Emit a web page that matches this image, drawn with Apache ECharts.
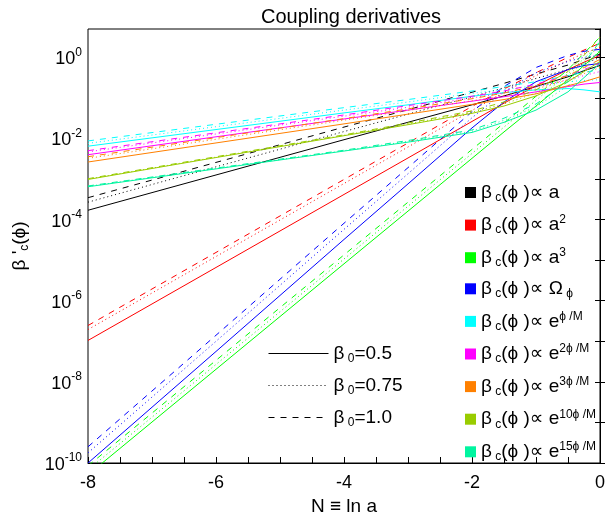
<!DOCTYPE html>
<html><head><meta charset="utf-8">
<script src="https://cdn.jsdelivr.net/npm/echarts@6/dist/echarts.min.js"></script>
<style>html,body{margin:0;padding:0;background:#fff}#c{width:616px;height:512px}</style>
</head><body><div id="c"></div>
<script>
// N = ln a sample points
const N = [-8, -6, -4, -3, -2, -1.5, -1, -0.5, -0.25, 0];
const xTicksLabelled = [-8, -6, -4, -2, 0];

// beta_c ∝ a
const black_05  = [1.70e-4, 1.26e-3, 9.33e-3, 2.51e-2, 6.76e-2, 0.112, 0.191, 0.331, 0.468, 0.631];
const black_075 = [2.69e-4, 2.00e-3, 1.48e-2, 3.98e-2, 0.107, 0.178, 0.302, 0.50, 0.692, 1.0];
const black_10  = [3.47e-4, 2.57e-3, 1.91e-2, 5.13e-2, 0.138, 0.229, 0.389, 0.646, 0.891, 1.2];
// beta_c ∝ a^2
const red_05  = [1.05e-7, 6.61e-6, 4.17e-4, 3.31e-3, 2.63e-2, 7.41e-2, 0.20, 0.50, 0.759, 1.12];
const red_075 = [1.95e-7, 1.23e-5, 7.76e-4, 6.17e-3, 4.90e-2, 0.138, 0.355, 0.832, 1.26, 1.78];
const red_10  = [2.45e-7, 1.55e-5, 9.77e-4, 7.76e-3, 6.17e-2, 0.166, 0.417, 1.0, 1.51, 2.24];
// beta_c ∝ a^3
const green_05  = [5.13e-11, 2.04e-8, 8.13e-6, 1.62e-4, 3.24e-3, 1.45e-2, 6.31e-2, 0.282, 0.631, 1.41];
const green_075 = [6.76e-11, 2.69e-8, 1.07e-5, 2.14e-4, 4.27e-3, 1.91e-2, 8.71e-2, 0.398, 0.933, 2.24];
const green_10  = [8.51e-11, 3.39e-8, 1.35e-5, 2.69e-4, 5.37e-3, 2.40e-2, 0.110, 0.50, 1.26, 3.16];
// beta_c ∝ Omega_phi
const blue_05  = [1.00e-10, 5.62e-8, 3.24e-5, 7.59e-4, 1.82e-2, 7.94e-2, 0.251, 0.50, 0.631, 0.708];
const blue_075 = [1.78e-10, 1.00e-7, 5.75e-5, 1.35e-3, 3.24e-2, 0.141, 0.417, 0.794, 1.0, 1.12];
const blue_10  = [2.51e-10, 1.41e-7, 8.13e-5, 1.91e-3, 4.57e-2, 0.191, 0.562, 1.12, 1.41, 1.58];
// beta_c ∝ e^{phi/M}
const cyan_05  = [6.46e-3, 1.66e-2, 4.27e-2, 6.76e-2, 0.110, 0.135, 0.158, 0.170, 0.158, 0.141];
const cyan_075 = [7.59e-3, 1.95e-2, 5.01e-2, 7.94e-2, 0.129, 0.162, 0.200, 0.251, 0.269, 0.282];
const cyan_10  = [8.71e-3, 2.24e-2, 5.75e-2, 9.12e-2, 0.148, 0.191, 0.251, 0.355, 0.427, 0.50];
// beta_c ∝ e^{2phi/M}
const mag_05  = [3.98e-3, 1.10e-2, 3.02e-2, 5.01e-2, 8.32e-2, 0.107, 0.141, 0.191, 0.219, 0.240];
const mag_075 = [4.68e-3, 1.29e-2, 3.55e-2, 5.89e-2, 0.100, 0.132, 0.186, 0.282, 0.355, 0.447];
const mag_10  = [5.01e-3, 1.38e-2, 3.80e-2, 6.46e-2, 0.110, 0.148, 0.219, 0.355, 0.50, 0.708];
// beta_c ∝ e^{3phi/M}
const org_05  = [2.63e-3, 7.76e-3, 2.29e-2, 3.98e-2, 6.92e-2, 9.12e-2, 0.126, 0.200, 0.251, 0.331];
const org_075 = [3.24e-3, 9.55e-3, 2.82e-2, 4.90e-2, 8.51e-2, 0.115, 0.166, 0.282, 0.398, 0.562];
const org_10  = [3.55e-3, 1.05e-2, 3.09e-2, 5.37e-2, 9.55e-2, 0.132, 0.200, 0.355, 0.562, 0.891];
// beta_c ∝ e^{10phi/M}
const yg_05  = [9.77e-4, 3.39e-3, 1.17e-2, 2.19e-2, 4.17e-2, 6.31e-2, 0.112, 0.251, 0.447, 0.794];
const yg_075 = [1.00e-3, 3.47e-3, 1.20e-2, 2.29e-2, 4.47e-2, 7.08e-2, 0.132, 0.355, 0.794, 2.0];
const yg_10  = [1.02e-3, 3.55e-3, 1.23e-2, 2.40e-2, 4.79e-2, 7.94e-2, 0.158, 0.447, 1.12, 3.16];
// beta_c ∝ e^{15phi/M}
const aq_05  = [6.46e-4, 1.78e-3, 4.90e-3, 8.13e-3, 1.41e-2, 2.51e-2, 5.01e-2, 0.141, 0.316, 0.708];
const aq_075 = [6.61e-4, 1.82e-3, 5.01e-3, 8.51e-3, 1.51e-2, 2.82e-2, 6.03e-2, 0.200, 0.50, 1.58];
const aq_10  = [6.76e-4, 1.86e-3, 5.13e-3, 8.91e-3, 1.62e-2, 3.16e-2, 7.08e-2, 0.251, 0.708, 2.51];

const families = [
  {key:'a',   color:'#000000', d:[black_05, black_075, black_10]},
  {key:'a2',  color:'#ff0000', d:[red_05, red_075, red_10]},
  {key:'a3',  color:'#00ff00', d:[green_05, green_075, green_10]},
  {key:'om',  color:'#0000ff', d:[blue_05, blue_075, blue_10]},
  {key:'e1',  color:'#00ffff', d:[cyan_05, cyan_075, cyan_10]},
  {key:'e2',  color:'#ff00ff', d:[mag_05, mag_075, mag_10]},
  {key:'e3',  color:'#ff8000', d:[org_05, org_075, org_10]},
  {key:'e10', color:'#99cc00', d:[yg_05, yg_075, yg_10]},
  {key:'e15', color:'#00f5a0', d:[aq_05, aq_075, aq_10]}
];
const legendText = {
  a:   '{g|β}{sub| c}{g|(ϕ )∝ a}',
  a2:  '{g|β}{sub| c}{g|(ϕ )∝ a}{sup|2}',
  a3:  '{g|β}{sub| c}{g|(ϕ )∝ a}{sup|3}',
  om:  '{g|β}{sub| c}{g|(ϕ )∝ Ω}{sub| ϕ}',
  e1:  '{g|β}{sub| c}{g|(ϕ )∝ e}{sup|ϕ /M}',
  e2:  '{g|β}{sub| c}{g|(ϕ )∝ e}{sup|2ϕ /M}',
  e3:  '{g|β}{sub| c}{g|(ϕ )∝ e}{sup|3ϕ /M}',
  e10: '{g|β}{sub| c}{g|(ϕ )∝ e}{sup|10ϕ /M}',
  e15: '{g|β}{sub| c}{g|(ϕ )∝ e}{sup|15ϕ /M}',
  b05: '{g|β}{sub| 0}{g|=0.5}',
  b075:'{g|β}{sub| 0}{g|=0.75}',
  b10: '{g|β}{sub| 0}{g|=1.0}'
};
const styles = [{type:'solid'}, {type:[1,3]}, {type:[6,6]}];
const FONT = 'Liberation Sans, Arial, Helvetica, DejaVu Sans, sans-serif';
const rich = {
  g:   {fontSize:19, fontFamily:FONT, color:'#000', lineHeight:22, verticalAlign:'middle'},
  sub: {fontSize:12, fontFamily:FONT, color:'#000', lineHeight:22, verticalAlign:'bottom'},
  sup: {fontSize:12, fontFamily:FONT, color:'#000', lineHeight:22, verticalAlign:'top'}
};

const series = [];
families.forEach(f => {
  f.d.forEach((arr, i) => {
    series.push({
      name: f.key, type:'line', symbol:'none', color:f.color,
      lineStyle:{width:1, color:f.color, type:styles[i].type},
      data: N.map((n, j) => [n, arr[j]]), z: 2, silent:true
    });
  });
});
['b05','b075','b10'].forEach((k, i) => {
  series.push({name:k, type:'line', symbol:'none', color:'#000',
    lineStyle:{width:1, color:'#000', type:styles[i].type}, data:[]});
});

function yLab(v) {
  const e = Math.log10(v);
  const r = Math.round(e);
  if (Math.abs(e - r) > 1e-6 || r % 2 !== 0) return '';
  return '{b|10}{s|' + r + '}';
}
const yRich = {
  b:{fontSize:18, fontFamily:FONT, color:'#000', lineHeight:22, verticalAlign:'bottom'},
  s:{fontSize:12, fontFamily:FONT, color:'#000', lineHeight:22, verticalAlign:'top'}
};

const chart = echarts.init(document.getElementById('c'), null, {renderer:'canvas'});
chart.setOption({
  animation:false,
  backgroundColor:'#fff',
  title:{text:'Coupling derivatives', left:346, top:2, textAlign:'center',
    textStyle:{fontSize:20, fontWeight:'normal', fontFamily:FONT, color:'#000'}},
  grid:{left:88, right:16, top:29, bottom:49, show:true, borderColor:'#000', borderWidth:1,
    backgroundColor:'transparent', containLabel:false, outerBoundsMode:'none'},
  legend:[
    {data:['a','a2','a3','om','e1','e2','e3','e10','e15'], orient:'vertical', left:460, top:178,
     icon:'rect', itemWidth:11, itemHeight:11, itemGap:10.6, selectedMode:false,
     formatter: n => legendText[n], textStyle:{rich:rich}},
    {data:['b05','b075','b10'], orient:'vertical', left:263, top:339,
     itemWidth:60, itemHeight:10, itemGap:11.5, selectedMode:false,
     itemStyle:{opacity:0}, lineStyle:{width:1},
     formatter: n => legendText[n], textStyle:{rich:rich}}
  ],
  xAxis:{type:'value', min:-8, max:0, interval:0.5,
    name:'N ≡ ln a', nameLocation:'middle', nameGap:29,
    nameTextStyle:{fontSize:19, fontFamily:FONT, color:'#000', verticalAlign:'top'},
    axisLine:{lineStyle:{color:'#000', width:1}},
    axisTick:{inside:true, length:6, lineStyle:{color:'#000'}},
    splitLine:{show:false},
    axisLabel:{fontSize:18, fontFamily:FONT, color:'#000', margin:11,
      formatter: v => (xTicksLabelled.indexOf(v) >= 0 ? String(v) : '')}
  },
  yAxis:[
    {type:'log', logBase:10, min:1e-10, max:5, interval:1,
     name:'{g|β \'}{sub|c}{g|(ϕ)}', nameLocation:'middle', nameGap:57, nameRotate:90,
     nameTextStyle:{rich:rich},
     axisLine:{lineStyle:{color:'#000', width:1}},
     axisTick:{inside:true, length:5, lineStyle:{color:'#000'}},
     splitLine:{show:false},
     axisLabel:{formatter:yLab, rich:yRich, margin:6, showMaxLabel:false}
    },
    {type:'log', logBase:10, min:1e-10, max:5, interval:1, position:'right',
     axisLine:{lineStyle:{color:'#000', width:1}},
     axisTick:{inside:true, length:5, lineStyle:{color:'#000'}},
     splitLine:{show:false}, axisLabel:{show:false}
    }
  ],
  series: series
});
</script></body></html>
